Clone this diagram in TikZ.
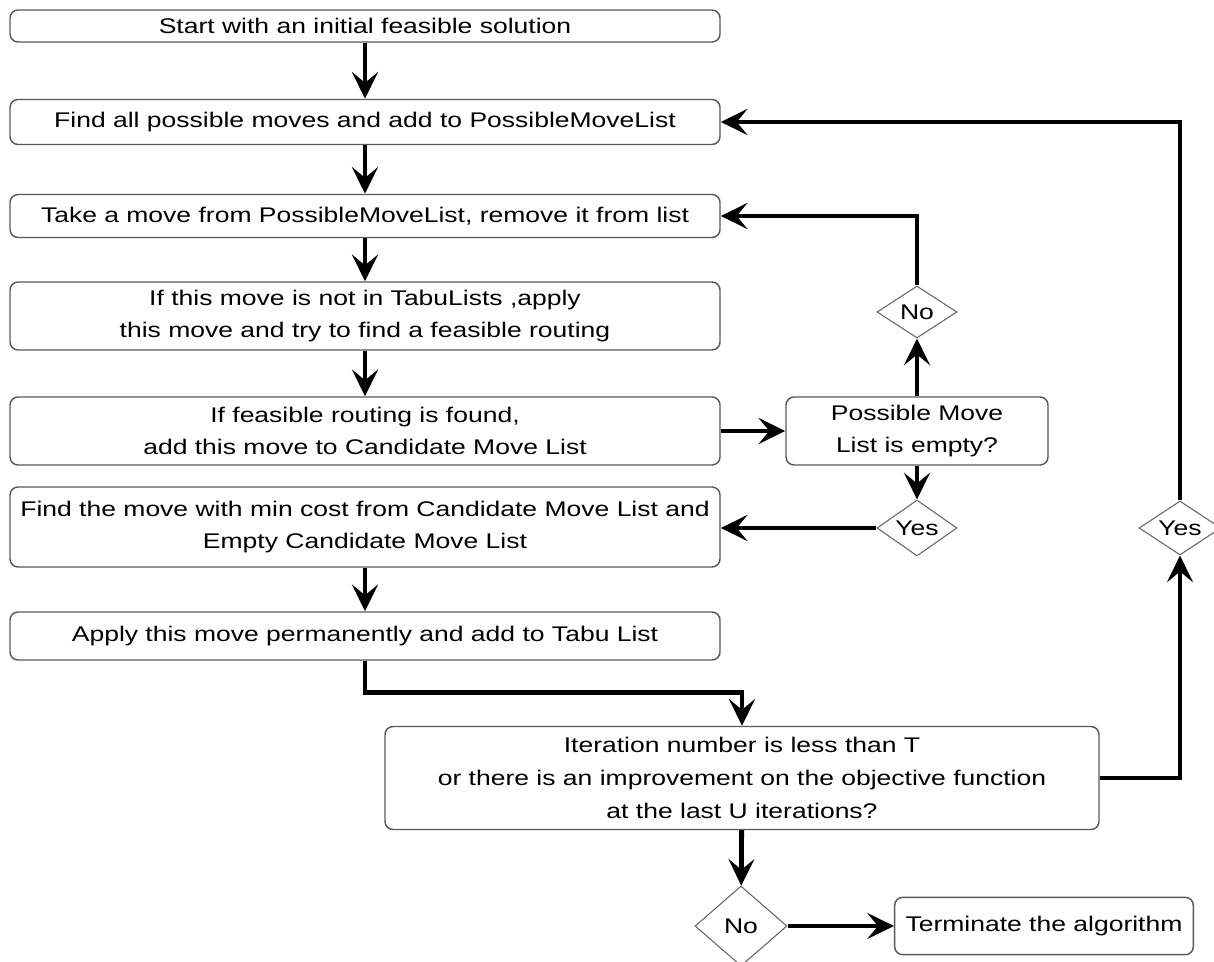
\documentclass[tikz,border=0pt]{standalone}
\usepackage{fontspec}
\setmainfont{Liberation Sans}[FakeStretch=1.25]
\usetikzlibrary{arrows.meta,shapes.geometric}

\begin{document}
\begin{tikzpicture}[x=0.75pt,y=-0.75pt,
	font=\fontsize{15.9}{24.5}\selectfont,
	stepbox/.style={draw=black!65, line width=1.1pt, rounded corners=6pt, align=center, inner sep=0pt, minimum width=532.5pt},
	askbox/.style={diamond, draw=black!60, line width=0.8pt, inner sep=0pt, aspect=1.4},
	arr/.style={line width=3.6pt, -{Stealth[length=20pt,width=19.5pt,inset=8pt]}}]
	\useasboundingbox (0,0) rectangle (1214,962);
	% main column
	\node[stepbox, minimum height=24pt] (start) at (365,26) {Start with an initial feasible solution};
	\node[stepbox, minimum height=33.75pt] (findall) at (365,122) {Find all possible moves and add to PossibleMoveList};
	\node[stepbox, minimum height=32.25pt] (take) at (365,216) {Take a move from PossibleMoveList, remove it from list};
	\node[stepbox, minimum height=51pt] (apply) at (365,316) {If this move is not in TabuLists ,apply\\this move and try to find a feasible routing};
	\node[stepbox, minimum height=51pt] (found) at (365,431) {If feasible routing is found,\\add this move to Candidate Move List};
	\node[stepbox, minimum height=60pt] (mincost) at (365,527) {Find the move with min cost from Candidate Move List and\\Empty Candidate Move List};
	\node[stepbox, minimum height=36pt] (perm) at (365,636) {Apply this move permanently and add to Tabu List};
	\node[stepbox, minimum width=535.5pt, minimum height=77.25pt] (iter) at (742,778) {Iteration number is less than T\\or there is an improvement on the objective function\\at the last U iterations?};
	\node[stepbox, minimum width=224pt, minimum height=43pt] (term) at (1044,926) {Terminate the algorithm};
	% side tests
	\node[stepbox, minimum width=196.5pt, minimum height=51pt] (empty) at (917,431) {Possible Move\\List is empty?};
	\node[askbox, minimum width=60pt, minimum height=39pt] (no1) at (917,312) {No};
	\node[askbox, minimum width=60pt, minimum height=42pt] (yes1) at (917,528) {Yes};
	\node[askbox, minimum width=61.5pt, minimum height=40.5pt] (yes2) at (1180,528) {Yes};
	\node[askbox, aspect=1.15, minimum width=69pt, minimum height=60pt] (no2) at (741,926) {No};
	% connectors
	\draw[arr] (start) -- (findall);
	\draw[arr] (findall) -- (take);
	\draw[arr] (take) -- (apply);
	\draw[arr] (apply) -- (found);
	\draw[arr] (found) -- (empty);
	\draw[arr] (empty) -- (no1);
	\draw[arr] (no1.north) |- (take.east);
	\draw[arr] (empty) -- (yes1);
	\draw[arr] (yes1.west) -- (yes1.west -| mincost.east);
	\draw[arr] (mincost) -- (perm);
	\draw[arr] (perm.south) -- ++(0,32) -| (iter.north);
	\draw[arr] (iter) -- (no2);
	\draw[arr] (no2) -- (term);
	\draw[arr] (iter.east) -| (yes2.south);
	\draw[arr] (yes2.north) |- (findall.east);
\end{tikzpicture}
\end{document}
